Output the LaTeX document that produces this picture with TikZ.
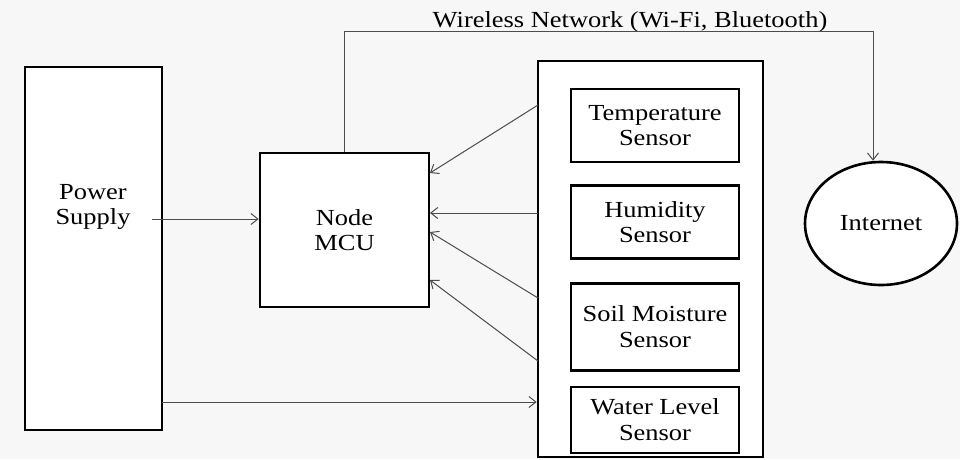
\documentclass[tikz,border=0pt]{standalone}
\usepackage{fontspec}
\setmainfont{Liberation Serif}[FakeStretch=1.15]
\usetikzlibrary{arrows.meta,positioning,shapes.geometric}
\tikzset{main node/.style={rectangle,draw,fill=white,line width=2.6pt,inner sep=0pt},
         sensor node/.style={main node,minimum width=168pt,align=center},
         link/.style={draw=black!70,line width=1pt,-{Straight Barb[length=7pt,width=11pt]}},}

\begin{document}
\begin{tikzpicture}[x=1pt,y=-1pt,font=\fontsize{23}{25.5}\selectfont]
    \fill[black!3] (0,0) rectangle (960,459);
    \useasboundingbox (0,0) rectangle (960,459);
    \node[main node,minimum width=137pt,minimum height=363pt] (ps) at (93.5,248.5) {};
    \node[align=center] (pstext) at (93,207) {Power\\Supply};
    \node[main node,minimum width=169pt,minimum height=154pt,align=center] (mcu) at (344.5,230) {Node\\MCU};
    \node[main node,minimum width=225pt,minimum height=396pt] (box) at (650.5,259) {};
    \node[sensor node,minimum height=73pt] (temp) at (655,125.5) {Temperature\\Sensor};
    \node[sensor node,minimum height=73pt] (hum) [below = 21pt of temp] {Humidity\\Sensor};
    \node[sensor node,minimum height=87pt] (soil) [below = 22pt of hum] {Soil Moisture\\Sensor};
    \node[sensor node,minimum height=66pt] (water) [below = 14pt of soil] {Water Level\\Sensor};
    \node[ellipse,draw,fill=white,line width=2.6pt,minimum width=152pt,minimum height=123pt] (net) at (881,223.5) {Internet};
    \node[anchor=base] (wlan) at (630,27) {Wireless Network (Wi-Fi, Bluetooth)};

    % connector ends
    \coordinate (psout) at (152,219);
    \coordinate (psbot) at (162,402);
    \coordinate (wl) at (873,31);
    \coordinate (s1) at (538,105);
    \coordinate (s2) at (538,213);
    \coordinate (s3) at (538,298);
    \coordinate (s4) at (538,361);
    \coordinate (m1) at (430,173);
    \coordinate (m2) at (430,213);
    \coordinate (m3) at (430,232);
    \coordinate (m4) at (430,280);

    \draw[link] (psout) -- (psout -| mcu.west);
    \draw[link] (psbot) -- (psbot -| box.west);
    \draw[link] (s1) -- (m1);
    \draw[link] (s2) -- (m2);
    \draw[link] (s3) -- (m3);
    \draw[link] (s4) -- (m4);
    \draw[link] (mcu.north) |- (wl) -- (wl |- net.north);
\end{tikzpicture}
\end{document}
